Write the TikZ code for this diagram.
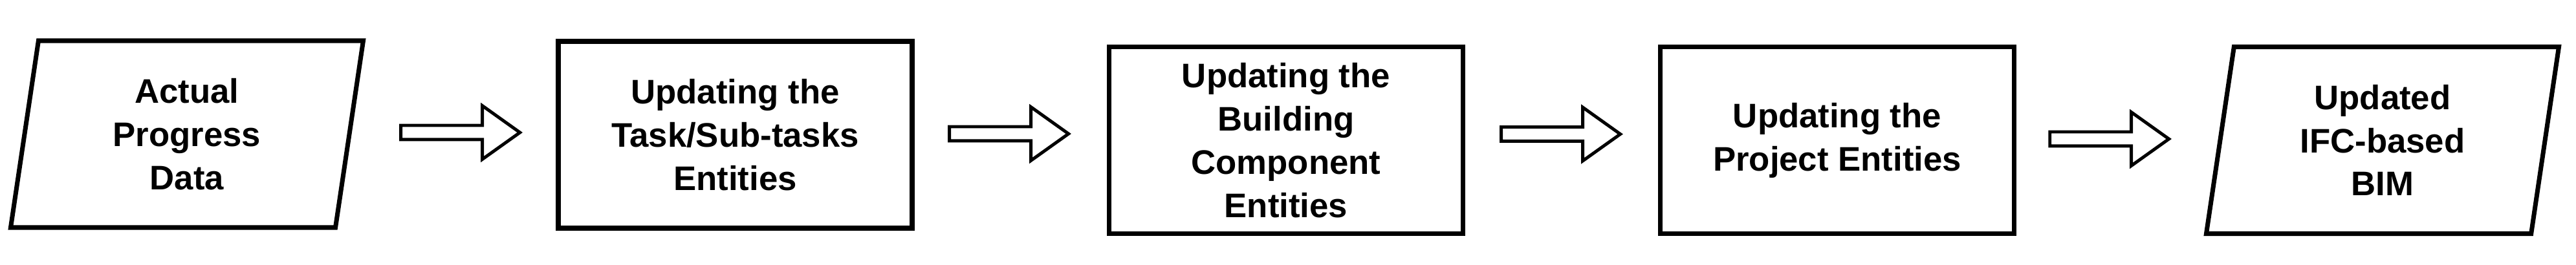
\documentclass[tikz,border=0pt]{standalone}
\usepackage{fontspec}
\setmainfont{Liberation Sans}
\usepackage{tikz}
\usetikzlibrary{positioning}
\usetikzlibrary{shapes.geometric,shapes.arrows}
\tikzstyle{boxfont}=[font=\fontsize{15}{19}\selectfont\bfseries]
\tikzstyle{process}=[rectangle,draw=black,line width=2pt,minimum width=5.47cm,minimum height=2.89cm,align=center,inner sep=0pt,boxfont]
\tikzstyle{datanode}=[trapezium,trapezium left angle=76,trapezium right angle=104,trapezium stretches body,draw=black,line width=2pt,minimum width=5.45cm,minimum height=2.89cm,align=center,inner sep=0pt,boxfont]
\tikzstyle{blockarrow}=[single arrow,draw=black,line width=1.4pt,minimum height=1.84cm,single arrow head extend=0.305cm,single arrow tip angle=71,inner xsep=0pt,inner ysep=0.085cm]

\begin{document}
\begin{tikzpicture}
    \useasboundingbox (0,0) rectangle (39.82,4.10);
    % input and output of the updating
    \node[datanode] (actual) at (2.89,2.025) {Actual\\Progress\\Data};
    \node[datanode] (bim) at (36.83,1.93) {Updated\\IFC-based\\BIM};

    % the updating steps
    \foreach \pos/\name/\label in {{(11.365,2.015)/task/Updating the\\Task{/}Sub-tasks\\Entities}, {(19.88,1.93)/component/Updating the\\Building\\Component\\Entities}, {(28.40,1.93)/project/Updating the\\Project Entities}}
        \node[process] (\name) at \pos {\label};

    % hollow arrows between the steps
    \foreach \pos/\name in {(7.04,2.05)/a1, (15.52,2.03)/a2, (24.05,2.025)/a3, (32.53,1.95)/a4}
        \node[blockarrow] (\name) at \pos {};
\end{tikzpicture}
\end{document}
